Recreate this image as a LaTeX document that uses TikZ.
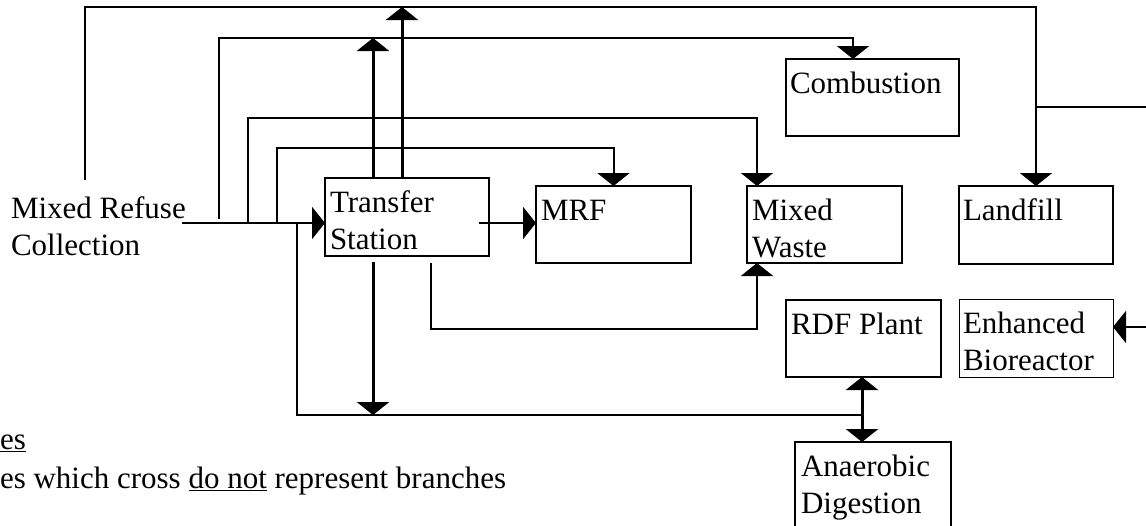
\documentclass[tikz,border=0pt]{standalone}
\usepackage{fontspec}
\setmainfont{Liberation Serif}
\usetikzlibrary{arrows.meta,calc}
\newcommand{\dfs}{\fontsize{31}{37.5}\selectfont}
\newcommand{\fst}{\rule{0pt}{24pt}}
\begin{document}
\begin{tikzpicture}[x=1pt,y=-1pt,
  box/.style={draw, line width=2pt, anchor=north west, inner sep=0pt, outer sep=0pt},
  thinbox/.style={box, line width=1pt},
  txtbase/.style={anchor=north west, inner sep=0pt, outer sep=0pt, align=left, font=\dfs},
  txt/.style={txtbase, xshift=5pt, yshift=-10pt},
  plain/.style={anchor=base west, inner sep=0pt, outer sep=0pt, font=\dfs},
  conn/.style={line width=2pt},
  arr/.style={line width=2pt, -{Triangle[width=32pt,length=13pt]}},
  barr/.style={line width=3pt, -{Triangle[width=32pt,length=13pt]}},
  dbarr/.style={line width=3pt, {Triangle[width=32pt,length=13pt]}-{Triangle[width=32pt,length=13pt]}},
]
\useasboundingbox (0,0) rectangle (1146,525);

% boxes
\node[box, minimum width=164pt, minimum height=78pt, label={[txt]north west:{\fst Transfer\\Station}}] (tr) at (325,178) {};
\node[box, minimum width=155pt, minimum height=77pt, label={[txt]north west:{\fst MRF}}] (mrf) at (536,186) {};
\node[box, minimum width=155pt, minimum height=77pt, label={[txt]north west:{\fst Mixed\\Waste}}] (mw) at (747,186) {};
\node[box, minimum width=173pt, minimum height=77pt, label={[txt, xshift=-1pt]north west:{\fst Combustion}}] (comb) at (786,59) {};
\node[box, minimum width=154pt, minimum height=78pt, label={[txt, xshift=-1pt]north west:{\fst Landfill}}] (lf) at (959,186) {};
\node[box, minimum width=155pt, minimum height=77pt, label={[txt]north west:{\fst RDF Plant}}] (rdf) at (786,300) {};
\node[thinbox, minimum width=154pt, minimum height=78pt, label={[txt, xshift=-1pt]north west:{\fst Enhanced\\Bioreactor}}] (eb) at (959,299) {};
\node[box, minimum width=156pt, minimum height=92pt, label={[txt, xshift=1pt]north west:{\fst Anaerobic\\Digestion}}] (ad) at (795,442) {};

% source text
\node[txtbase] (mrc) at (11,194) {\fst Mixed Refuse\\Collection};

% notes
\node[plain] (n1) at (0,449) {\underline{es}};
\node[plain] (n2) at (0,488) {es which cross \underline{do not} represent branches};

% levels and free ends
\coordinate (lv1) at (0,7);
\coordinate (lv2) at (0,38);
\coordinate (lv3) at (0,118);
\coordinate (lv4) at (0,148);
\coordinate (lv5) at (0,415);
\coordinate (lv6) at (0,329);
\coordinate (in) at (182,223);
\coordinate (c1) at (85,180);
\coordinate (c2) at (219,219);
\coordinate (c3) at (248,223);
\coordinate (c4) at (277,223);
\coordinate (c5) at (297,223);
\coordinate (br) at (1146,107);
\coordinate (ebin) at (1146,327);
\coordinate (trout) at (479,223);
\coordinate (combin) at ($(comb.north west)+(67,0)$);
\coordinate (mwin) at ($(mw.north west)+(10,0)$);
\coordinate (mwout) at ($(mw.south west)+(10,0)$);
\coordinate (x862) at (862,0);
\coordinate (tu1) at ($(tr.north west)+(48,0)$);
\coordinate (tu2) at ($(tr.north west)+(77,0)$);
\coordinate (td1) at ($(tr.south west)+(48,6)$);
\coordinate (td2) at ($(tr.south west)+(106,7)$);

% connectors
\draw[arr] (in) -- (tr.west |- in);
\draw[arr] (c1) |- (lf.north |- lv1) -- (lf.north);
\draw[conn] (lf.north |- br) -- (br);
\draw[arr] (c2) |- (combin |- lv2) -- (combin);
\draw[arr] (c3) |- (mwin |- lv3) -- (mwin);
\draw[arr] (c4) |- (mrf.north |- lv4) -- (mrf.north);
\draw[arr] (trout) -- (mrf.west |- trout);
\draw[barr] (tu1) -- (tu1 |- lv2);
\draw[barr] (tu2) -- (tu2 |- lv1);
\draw[conn] (c5) |- (x862 |- lv5);
\draw[barr] (td1) -- (td1 |- lv5);
\draw[arr] (td2) |- (mwout |- lv6) -- (mwout);
\draw[dbarr] (rdf.south -| x862) -- (ad.north -| x862);
\draw[arr] (ebin) -- (eb.east |- ebin);
\end{tikzpicture}
\end{document}
